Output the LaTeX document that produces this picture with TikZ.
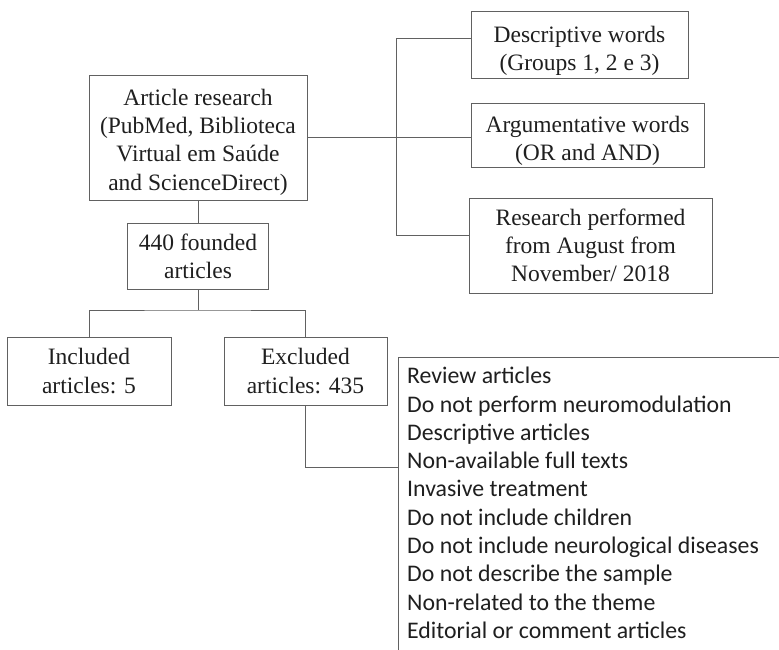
\documentclass[tikz,border=0pt]{standalone}
\usepackage{fontspec}
\setmainfont{Liberation Serif}
\newfontfamily\listfont{Carlito}
\definecolor{linec}{rgb}{0.38,0.38,0.38}
\definecolor{textc}{rgb}{0.12,0.12,0.12}
\begin{document}
\begin{tikzpicture}[x=1pt,y=-1pt,
  box/.style={draw=linec, line width=1pt, rectangle, align=center, inner sep=0pt,
    text=textc, font=\fontsize{23.5}{28.3}\selectfont},
  boxtext/.style={align=center, inner sep=0pt, text=textc,
    font=\fontsize{23.5}{28.3}\selectfont},
  conn/.style={draw=linec, line width=1pt}]
\fill[white] (0,0) rectangle (779,650);
\useasboundingbox (0,0) rectangle (779,650);
\clip (0,0) rectangle (779,650);
% nodes
\node[box, minimum width=218pt, minimum height=124pt] (art) at (198,138) {};
\node[boxtext] (arttext) at ([yshift=-4pt]art.center)
  {Article research\\(PubMed, Biblioteca\\Virtual em Saúde\\and ScienceDirect)};
\node[box, minimum width=141pt, minimum height=66pt] (found) at (198,256)
  {440 founded\\articles};
\node[box, minimum width=164pt, minimum height=68pt] (inc) at (89,371)
  {Included\\articles: 5};
\node[box, minimum width=163pt, minimum height=68pt] (exc) at (305.5,371)
  {Excluded\\articles: 435};
\node[box, minimum width=217pt, minimum height=67pt] (desc) at (579.5,45.5) {};
\node[boxtext] (desctext) at ([yshift=-5pt]desc.center)
  {Descriptive words\\(Groups 1, 2 e 3)};
\node[box, minimum width=233pt, minimum height=63pt] (arg) at (587.5,135.5) {};
\node[boxtext] (argtext) at ([yshift=-5pt]arg.center)
  {Argumentative words\\(OR and AND)};
\node[box, minimum width=243pt, minimum height=95pt] (res) at (590.5,245.5)
  {Research performed\\from August from\\November/ 2018};
\node[draw=linec, line width=1pt, rectangle, anchor=north west,
  minimum width=400pt, minimum height=320pt, inner sep=0pt] (list) at (398,357) {};
\node[anchor=north west, align=left, inner sep=0pt, text=textc,
  font=\listfont\fontsize{23.8}{28.3}\selectfont] (listtext) at (407,367)
  {Review articles\\
   Do not perform neuromodulation\\
   Descriptive articles\\
   Non-available full texts\\
   Invasive treatment\\
   Do not include children\\
   Do not include neurological diseases\\
   Do not describe the sample\\
   Non-related to the theme\\
   Editorial or comment articles};
% connectors
\coordinate (split) at (198,310);
\coordinate (jt) at (396,39);
\coordinate (jb) at (396,235);
\coordinate (lj) at (398,467);
\draw[conn] (art.south) -- (found.north);
\draw[conn] (found.south) -- (split);
\draw[conn] (inc.north) |- (split) -| (exc.north);
\draw[conn] (exc.south) |- (lj);
\draw[conn] (art.east) -- (art.east -| arg.west);
\draw[conn] (desc.west |- jt) -- (jt) -- (jb) -- (res.west |- jb);
\end{tikzpicture}
\end{document}
